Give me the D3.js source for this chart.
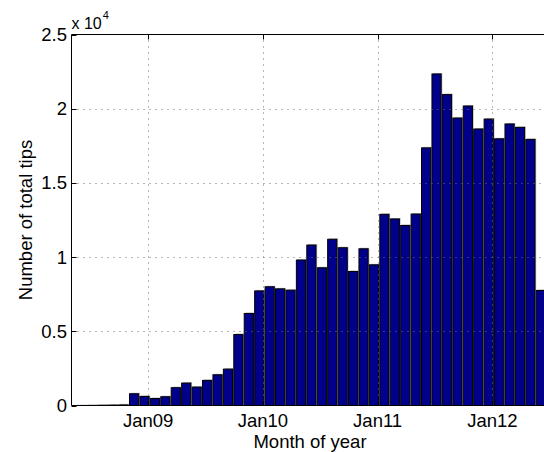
<!DOCTYPE html>
<html>
<head>
<meta charset="utf-8">
<script src="https://cdn.jsdelivr.net/npm/d3@7"></script>
<style>
  html, body { margin: 0; padding: 0; background: #fff; }
  svg { display: block; }
  text { font-family: "Liberation Sans", Arial, Helvetica, sans-serif; fill: #000; }
</style>
</head>
<body>
<div id="chart"></div>
<script>
// Monthly periods (1..45) and the total number of tips in each period
const periods = [1, 2, 3, 4, 5, 6, 7, 8, 9, 10, 11, 12, 13, 14, 15, 16, 17, 18, 19, 20, 21, 22, 23,
  24, 25, 26, 27, 28, 29, 30, 31, 32, 33, 34, 35, 36, 37, 38, 39, 40, 41, 42, 43, 44, 45];
const totalTips = [5, 10, 20, 30, 40, 790, 610, 470, 590, 1200, 1510, 1240, 1690, 2070, 2450,
  4780, 6200, 7720, 8000, 7860, 7770, 9800, 10810, 9280, 11200, 10630, 9030, 10560, 9480,
  12880, 12570, 12130, 12900, 17360, 22340, 20950, 19370, 20180, 18630, 19300, 17970, 18970,
  18740, 17930, 7750];

// Year ticks on the period axis
const yearTickPos = [7.35, 18.35, 29.35, 40.35];
const yearTickLabels = ["Jan09", "Jan10", "Jan11", "Jan12"];

// Y ticks (in units of 10^4)
const yTickValues = [0, 5000, 10000, 15000, 20000, 25000];
const yTickLabels = ["0", "0.5", "1", "1.5", "2", "2.5"];

(function draw() {
  const W = 544, H = 452;
  const axLeft = 71.5, axTop = 34.5, axBottom = 405.5;
  const step = 10.43;

  const svg = d3.select("#chart").append("svg").attr("width", W).attr("height", H);

  const x = d3.scaleLinear().domain([0, periods.length + 1])
    .range([axLeft, axLeft + (periods.length + 1) * step]);
  const y = d3.scaleLinear().domain([0, 25000]).range([axBottom, axTop]);
  const axRight = x.range()[1];
  const barW = step * 0.88;

  // Bars with a light shadow on their upper right side
  const bars = svg.append("g");
  bars.selectAll("rect.shadow").data(periods).join("rect")
    .attr("class", "shadow")
    .attr("x", (d) => x(d) - barW / 2 + 1.2)
    .attr("y", (d, i) => y(totalTips[i]) - 1)
    .attr("width", barW)
    .attr("height", (d, i) => y(0) - y(totalTips[i]))
    .attr("fill", "#b4b4b4");
  bars.selectAll("rect.bar").data(periods).join("rect")
    .attr("class", "bar")
    .attr("x", (d) => x(d) - barW / 2)
    .attr("y", (d, i) => y(totalTips[i]))
    .attr("width", barW)
    .attr("height", (d, i) => y(0) - y(totalTips[i]))
    .attr("fill", "#00008a")
    .attr("stroke", "#000")
    .attr("stroke-width", 1);

  // Dotted grid
  const grid = svg.append("g").attr("stroke", "#6e6e6e").attr("stroke-width", 1)
    .attr("stroke-dasharray", "1,5");
  grid.selectAll("line.gx").data(yearTickPos).join("line")
    .attr("x1", (d) => Math.round(x(d)) + 0.5).attr("x2", (d) => Math.round(x(d)) + 0.5)
    .attr("y1", axTop).attr("y2", axBottom);
  grid.selectAll("line.gy").data(yTickValues.slice(1, -1)).join("line")
    .attr("x1", axLeft).attr("x2", axRight)
    .attr("y1", (d) => Math.round(y(d)) + 0.5).attr("y2", (d) => Math.round(y(d)) + 0.5);

  // Axes box (left, top, bottom) and inward ticks
  const axesG = svg.append("g").attr("stroke", "#000").attr("stroke-width", 1).attr("fill", "none");
  axesG.append("path").attr("d", `M${axRight},${axTop}H${axLeft}V${axBottom}H${axRight}`);
  const tickLen = 5;
  yearTickPos.forEach((p) => {
    const px = Math.round(x(p)) + 0.5;
    axesG.append("line").attr("x1", px).attr("x2", px).attr("y1", axBottom).attr("y2", axBottom - tickLen);
    axesG.append("line").attr("x1", px).attr("x2", px).attr("y1", axTop).attr("y2", axTop + tickLen);
  });
  yTickValues.forEach((v) => {
    const py = Math.round(y(v)) + 0.5;
    axesG.append("line").attr("x1", axLeft).attr("x2", axLeft + tickLen).attr("y1", py).attr("y2", py);
  });

  // Tick labels
  const fs = 18.5;
  svg.append("g").selectAll("text").data(yearTickPos).join("text")
    .attr("x", (d) => x(d)).attr("y", 427)
    .attr("text-anchor", "middle").attr("font-size", fs)
    .text((d, i) => yearTickLabels[i]);
  svg.append("g").selectAll("text").data(yTickValues).join("text")
    .attr("x", 67).attr("y", (d) => y(d) + 6.5)
    .attr("text-anchor", "end").attr("font-size", fs)
    .text((d, i) => yTickLabels[i]);

  // Exponent label
  const ex = svg.append("text").attr("x", 71.5).attr("y", 29.3).attr("font-size", 16);
  ex.append("tspan").text("x 10");
  ex.append("tspan").attr("font-size", 11).attr("dx", 1).attr("dy", -10.5).text("4");

  // Axis titles
  svg.append("text").attr("x", 310).attr("y", 447.5)
    .attr("text-anchor", "middle").attr("font-size", fs).text("Month of year");
  svg.append("text").attr("transform", `translate(31.5,${(axTop + axBottom) / 2}) rotate(-90)`)
    .attr("text-anchor", "middle").attr("font-size", fs).text("Number of total tips");
})();
</script>
</body>
</html>
